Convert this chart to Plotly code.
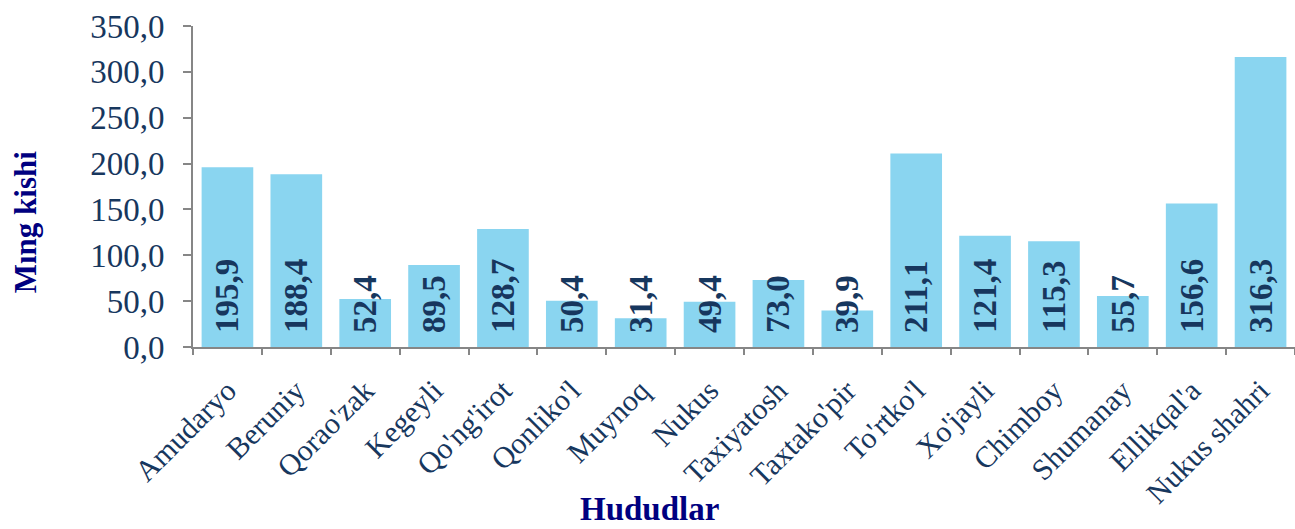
import plotly.graph_objects as go

categories = ["Amudaryo", "Beruniy", "Qorao'zak", "Kegeyli", "Qo'ng'irot", "Qonliko'l",
              "Muynoq", "Nukus", "Taxiyatosh", "Taxtako'pir", "To'rtko'l", "Xo'jayli",
              "Chimboy", "Shumanay", "Ellikqal'a", "Nukus shahri"]
values = [195.9, 188.4, 52.4, 89.5, 128.7, 50.4, 31.4, 49.4, 73.0, 39.9,
          211.1, 121.4, 115.3, 55.7, 156.6, 316.3]
y_ticks = [0, 50, 100, 150, 200, 250, 300, 350]

FONT = "Liberation Serif"
TICK_COLOR = "#17375E"
TITLE_COLOR = "#000080"
AXIS_COLOR = "#868686"

fig = go.Figure(go.Bar(
    x=categories, y=values,
    marker=dict(color="#8AD5F0", line=dict(width=0)),
    texttemplate="\u00a0\u200a<b>%{y:.1f}</b>",
    textposition="inside",
    insidetextanchor="start",
    textangle=-90,
    textfont=dict(family=FONT, size=33, color=TICK_COLOR),
    cliponaxis=False,
    hoverinfo="skip",
))

fig.update_layout(
    width=1295, height=529,
    margin=dict(l=193, r=0, t=26, b=182),
    plot_bgcolor="white", paper_bgcolor="white",
    separators=", ",
    bargap=0.25,
    showlegend=False,
    uniformtext=dict(minsize=33, mode="show"),
    font=dict(family=FONT, color=TICK_COLOR),
    annotations=[
        dict(text="<b>Mıng kishi</b>", xref="paper", yref="paper",
             x=-0.152, y=0.39, textangle=-90, showarrow=False,
             xanchor="center", yanchor="middle",
             font=dict(family=FONT, size=31, color=TITLE_COLOR)),
        dict(text="<b>Hududlar</b>", xref="paper", yref="paper",
             x=0.4147, y=-0.564, showarrow=False,
             xanchor="center", yanchor="bottom", borderpad=0,
             font=dict(family=FONT, size=33, color=TITLE_COLOR)),
    ],
)

fig.update_xaxes(
    tickangle=-45,
    tickfont=dict(family=FONT, size=30, color=TICK_COLOR),
    ticklabelstandoff=12,
    showline=True, linecolor=AXIS_COLOR, linewidth=2,
    ticks="outside", tickson="boundaries", ticklen=6, tickwidth=2, tickcolor=AXIS_COLOR,
    showgrid=False,
    automargin=False,
)

fig.update_yaxes(
    range=[0, 350],
    tickvals=y_ticks,
    tickformat=".1f",
    tickfont=dict(family=FONT, size=33, color=TICK_COLOR),
    ticklabelstandoff=12,
    showline=True, linecolor=AXIS_COLOR, linewidth=2,
    ticks="outside", ticklen=8, tickwidth=2, tickcolor=AXIS_COLOR,
    showgrid=False, zeroline=False,
    automargin=False,
)

fig.write_html("out.html", config={"displayModeBar": False},
               post_script="document.body.style.margin='0';")
